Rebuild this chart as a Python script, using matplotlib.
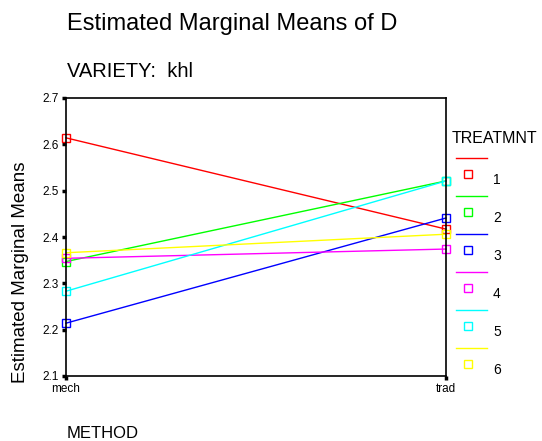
import matplotlib
matplotlib.use("Agg")
import matplotlib.pyplot as plt
from matplotlib.lines import Line2D

plt.rcParams['font.family'] = ['Liberation Sans', 'DejaVu Sans']

methods = ["mech", "trad"]
treatments = ["1", "2", "3", "4", "5", "6"]
means = {
    "1": [2.614, 2.417],
    "2": [2.347, 2.521],
    "3": [2.214, 2.441],
    "4": [2.354, 2.374],
    "5": [2.283, 2.521],
    "6": [2.366, 2.406],
}
colors = ["#ff0000", "#00ff00", "#0000ff", "#ff00ff", "#00ffff", "#ffff00"]
yticks = [2.1, 2.2, 2.3, 2.4, 2.5, 2.6, 2.7]

W, H = 542, 441
fig = plt.figure(figsize=(W / 100, H / 100), dpi=100)
ax = fig.add_axes([66 / W, 1 - 376 / H, (446 - 66) / W, (376 - 98) / H])

x = list(range(len(methods)))
for t, c in zip(treatments, colors):
    ax.plot(x, means[t], color=c, lw=1, marker="s", markersize=5.5,
            markerfacecolor="none", markeredgecolor=c, markeredgewidth=1,
            clip_on=False)

ax.set_xlim(0, 1)
ax.set_ylim(2.1, 2.7)
ax.set_yticks(yticks)
ax.set_yticklabels([f"{v:.1f}" for v in yticks])
ax.set_xticks(x)
ax.set_xticklabels(methods)
for s in ax.spines.values():
    s.set_linewidth(1.2)
ax.tick_params(axis="both", direction="out", length=3, width=2.5, labelsize=8.5, pad=2)


def fx(px):
    return px / W


def fy(py):
    return 1 - py / H


fig.text(fx(67), fy(30), "Estimated Marginal Means of D", fontsize=17, va="baseline")
fig.text(fx(67), fy(77), "VARIETY:  khl", fontsize=14.5, va="baseline")
fig.text(fx(67), fy(438), "METHOD", fontsize=12, va="baseline")
fig.text(fx(21), fy(383), "Estimated Marginal Means", fontsize=13.5,
         rotation=90, ha="center", va="bottom")

# legend
fig.text(fx(452), fy(143), "TREATMNT", fontsize=11.5, va="baseline")
for i, (t, c) in enumerate(zip(treatments, colors)):
    y0 = 158 + i * 38
    fig.add_artist(Line2D([fx(456), fx(487)], [fy(y0), fy(y0)], color=c, lw=1,
                          transform=fig.transFigure))
    fig.add_artist(Line2D([fx(468)], [fy(y0 + 16)], marker="s", markersize=5.5,
                          markerfacecolor="none", markeredgecolor=c,
                          markeredgewidth=1, transform=fig.transFigure))
    fig.text(fx(493), fy(y0 + 26), t, fontsize=10, va="baseline")

fig.savefig("out.png", dpi=100)
